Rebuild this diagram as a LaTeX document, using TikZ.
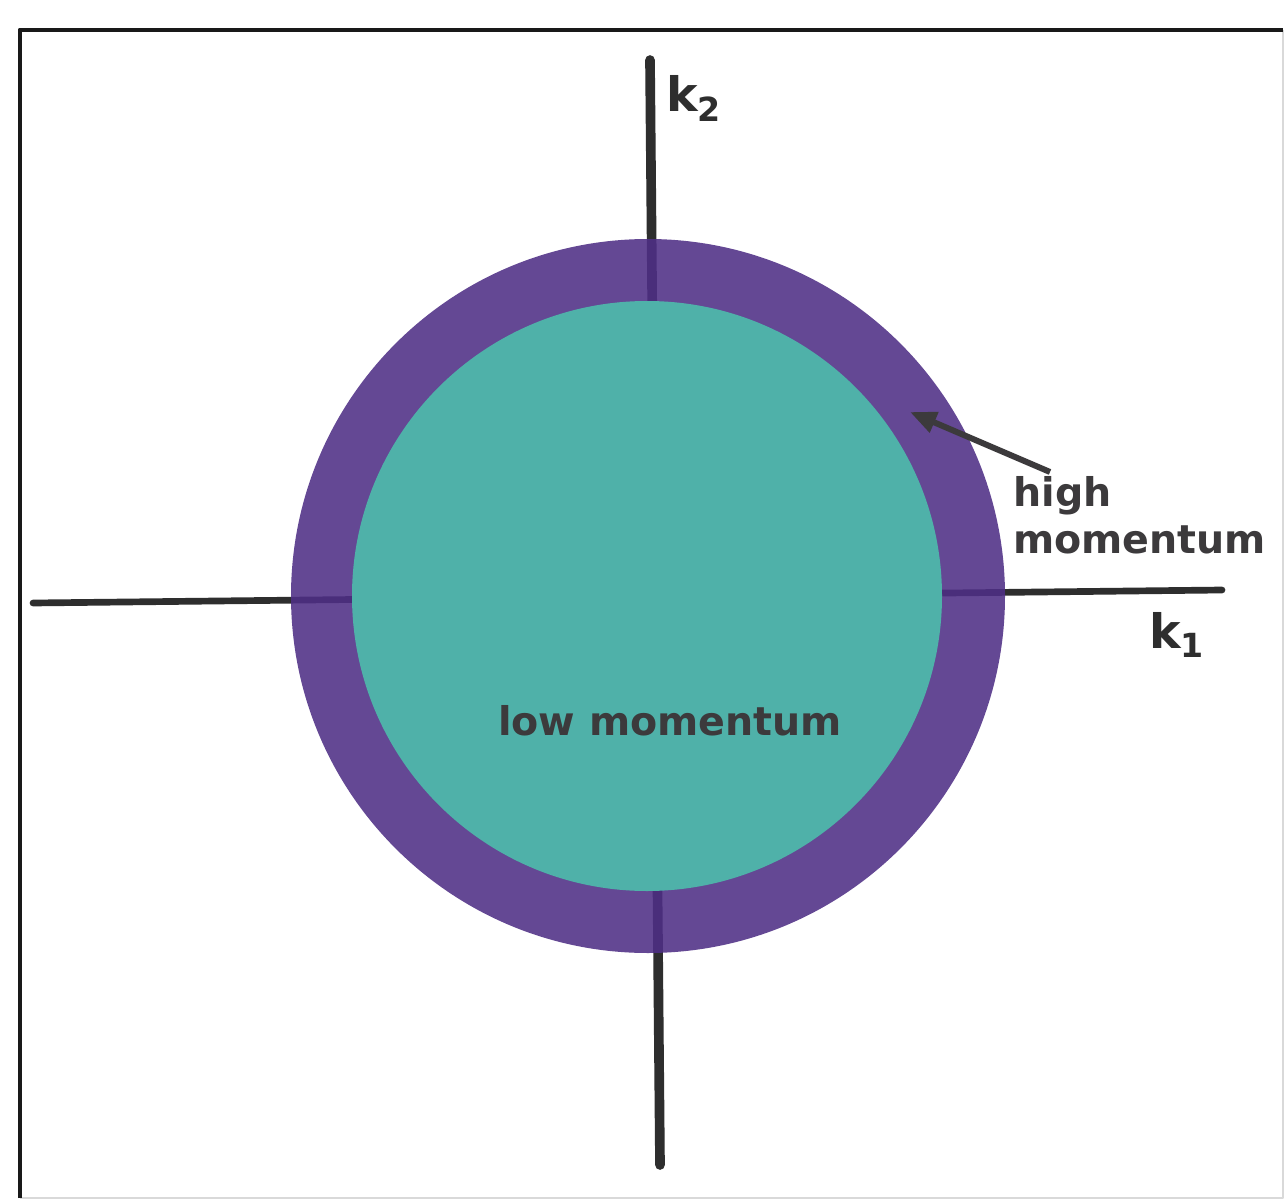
\documentclass[tikz,border=0pt]{standalone}
\usepackage{fontspec}
\setmainfont{DejaVu Sans}
\usetikzlibrary{arrows.meta,positioning}
\definecolor{RingPurple}{HTML}{4F2F86}
\definecolor{CoreTeal}{HTML}{4FB1A9}
\definecolor{AxisGray}{HTML}{2E2E2E}
\definecolor{InkGray}{HTML}{3C3A3C}
\tikzset{
  axisline/.style={AxisGray,line cap=round},
  bandlabel/.style={text=InkGray,font=\bfseries\fontsize{22.5}{27}\selectfont,inner sep=0pt},
  axislabel/.style={text=AxisGray,font=\bfseries\fontsize{27}{30}\selectfont,inner sep=0pt}
}

\begin{document}
\begin{tikzpicture}[x=0.02cm,y=-0.02cm,line join=round]
  \useasboundingbox (0,0) rectangle (1285,1203);
  \path[fill=white] (0,0) rectangle (1285,1203);
  % frame
  \draw[black!15,line width=0.8pt] (1283,30) -- (1283,1198) -- (20,1198);
  \draw[black!90,line width=2.8pt] (20,1198) -- (20,30) -- (1283,30);
  % axes
  \coordinate (k2top) at (650,60);
  \coordinate (k2bot) at (660,1165);
  \coordinate (k1left) at (33,603);
  \coordinate (k1right) at (1222,590);
  \draw[axisline,line width=5.5pt] (k2top) -- (k2bot);
  \draw[axisline,line width=3.8pt] (k1left) -- (k1right);
  % momentum regions
  \path[fill=RingPurple,opacity=0.88] (648,596) circle[radius=357];
  \path[fill=CoreTeal] (647,596) circle[radius=295];
  % labels
  \node[bandlabel,anchor=base] (low) at (670,735) {low momentum};
  \node[bandlabel,anchor=north west,align=left] (high) at (1013,476)
    {high\\momentum};
  \coordinate (ringpt) at (910,412);
  \draw[-{Triangle[length=15pt,width=12pt]},InkGray,line width=3.4pt]
    (1050,472) -- (ringpt);
  \node[axislabel,anchor=base west] (k2) at (666,112) {k\textsubscript{2}};
  \node[axislabel,anchor=base west] (k1) at (1149,648) {k\textsubscript{1}};
\end{tikzpicture}
\end{document}
